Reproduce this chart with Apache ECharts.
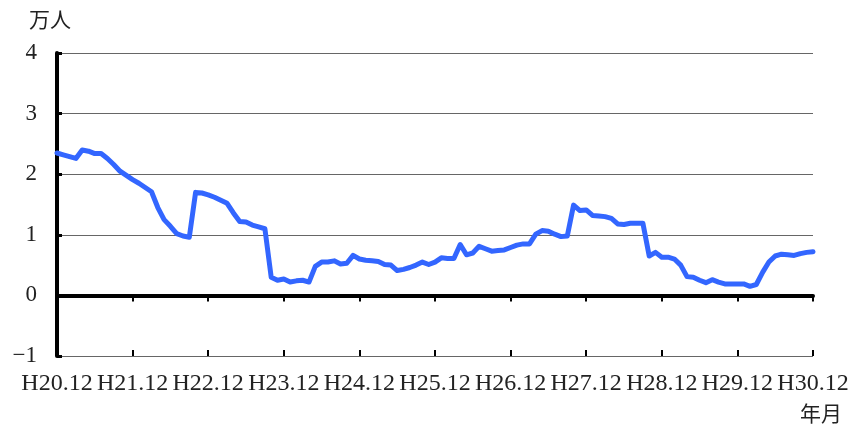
<!DOCTYPE html>
<html>
<head>
<meta charset="utf-8">
<script src="https://cdn.jsdelivr.net/npm/echarts@6/dist/echarts.min.js"></script>
<style>
  html, body { margin: 0; padding: 0; background: #fff; }
  #main { width: 862px; height: 429px; }
</style>
</head>
<body>
<div id="main"></div>
<script>
// 年月 (H20.12 ～ H30.12, monthly)
var startYear = 20;
var endYear = 30;
var months = [];
for (var y = startYear; y <= endYear; y++) {
    for (var m = (y === startYear ? 12 : 1); m <= 12; m++) {
        months.push('H' + y + '.' + m);
    }
}

// 万人
var values = [
    2.35, 2.32, 2.29, 2.26, 2.40, 2.38, 2.34, 2.34, 2.26, 2.16, 2.05, 1.98,
    1.91, 1.85, 1.78, 1.71, 1.45, 1.25, 1.14, 1.02, 0.98, 0.96, 1.70, 1.69,
    1.66, 1.62, 1.57, 1.52, 1.36, 1.22, 1.21, 1.16, 1.13, 1.10, 0.30, 0.25,
    0.27, 0.22, 0.24, 0.25, 0.22, 0.48, 0.55, 0.55, 0.57, 0.52, 0.53, 0.66,
    0.60, 0.58, 0.57, 0.56, 0.51, 0.50, 0.41, 0.43, 0.46, 0.50, 0.55, 0.51,
    0.55, 0.62, 0.61, 0.61, 0.84, 0.67, 0.70, 0.81, 0.77, 0.73, 0.74, 0.75,
    0.79, 0.83, 0.85, 0.85, 1.01, 1.07, 1.06, 1.01, 0.97, 0.98, 1.49, 1.40,
    1.41, 1.32, 1.31, 1.30, 1.27, 1.18, 1.17, 1.19, 1.19, 1.19, 0.65, 0.71,
    0.63, 0.63, 0.60, 0.50, 0.31, 0.30, 0.25, 0.21, 0.26, 0.22, 0.19, 0.19,
    0.19, 0.19, 0.15, 0.18, 0.38, 0.55, 0.65, 0.68, 0.67, 0.66, 0.69, 0.71,
    0.72
];

var yMin = -1, yMax = 4, yStep = 1;
var yName = '万人';
var xName = '年月';

var serif = '"Liberation Serif", "DejaVu Serif", serif';
var cjk = '"Noto Sans CJK JP", sans-serif';

var chart = echarts.init(document.getElementById('main'));

var option = {
    animation: false,
    grid: { left: 57, right: 49, top: 53, bottom: 73 },
    xAxis: [
        {   // labels at the bottom
            type: 'category',
            data: months,
            boundaryGap: false,
            position: 'bottom',
            axisLine: { show: false, onZero: false },
            axisTick: { show: false },
            axisLabel: {
                interval: 11,
                margin: 16,
                fontFamily: serif,
                fontSize: 24,
                color: '#222'
            }
        },
        {   // zero line, ticks pointing down
            type: 'category',
            data: months,
            boundaryGap: false,
            position: 'bottom',
            axisLine: { onZero: true, lineStyle: { color: '#000', width: 4 } },
            axisTick: { interval: 11, length: 6, lineStyle: { color: '#000', width: 2 } },
            axisLabel: { show: false }
        },
        {   // ticks pointing up
            type: 'category',
            data: months,
            boundaryGap: false,
            position: 'bottom',
            axisLine: { show: false, onZero: true },
            axisTick: { inside: true, interval: 11, length: 6, lineStyle: { color: '#000', width: 2 } },
            axisLabel: { show: false }
        }
    ],
    yAxis: {
        type: 'value',
        min: yMin,
        max: yMax,
        interval: yStep,
        name: yName,
        nameLocation: 'end',
        nameGap: 23,
        nameTextStyle: { fontFamily: cjk, fontSize: 21, color: '#222', align: 'center', padding: [0, 14, 0, 0] },
        axisLine: { show: true, lineStyle: { color: '#000', width: 4 } },
        axisTick: { show: true, inside: true, length: 5, lineStyle: { color: '#000', width: 3 } },
        axisLabel: {
            margin: 20,
            fontFamily: serif,
            fontSize: 23,
            color: '#222',
            formatter: function (v) { return String(v).replace('-', '\u2212'); }
        },
        splitLine: { show: true, lineStyle: { color: '#666', width: 1 } }
    },
    graphic: [
        {
            type: 'text',
            left: 800,
            top: 403,
            style: { text: xName, font: '21px ' + cjk, fill: '#222' }
        }
    ],
    series: [
        {
            type: 'line',
            data: values,
            xAxisIndex: 1,
            showSymbol: false,
            symbol: 'none',
            lineStyle: { color: '#3366ff', width: 5, join: 'round', cap: 'round' },
            z: 3
        }
    ]
};

chart.setOption(option);
</script>
</body>
</html>
